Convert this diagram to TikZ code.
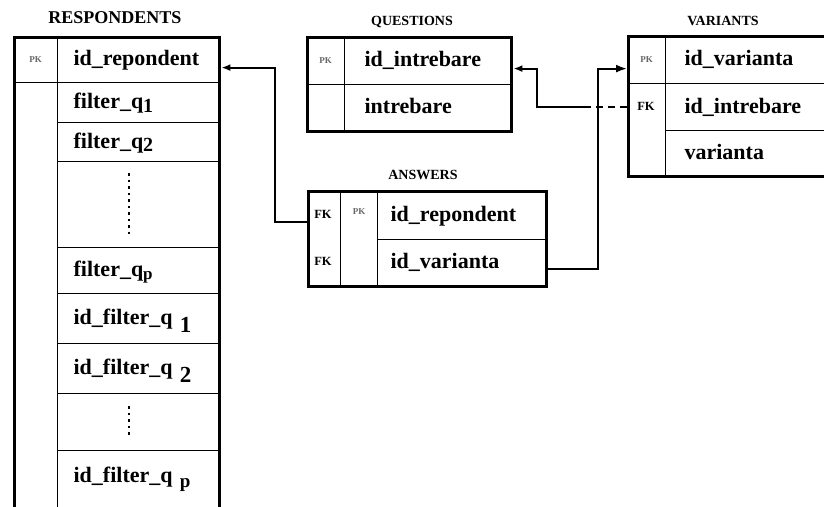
\documentclass[tikz,border=0pt]{standalone}
\usepackage{fontspec}
\setmainfont{Liberation Serif}
\usetikzlibrary{arrows.meta}
\newcommand\fieldfont{\fontsize{22}{24}\selectfont\bfseries}
\newcommand\lowsub[3]{\raisebox{-#1}{\fontsize{#2}{#2}\selectfont #3}}
\begin{document}
\begin{tikzpicture}[x=1pt,y=-1pt,
  outer/.style={draw,line width=3.4pt,anchor=north west,inner sep=0pt},
  cell/.style={draw,line width=1.2pt,anchor=north west,align=left,inner ysep=0pt,
    font=\fieldfont,text height=17pt,text depth=5pt},
  keycell/.style={draw,line width=1.2pt,anchor=north west,inner sep=0pt},
  pk/.style={font=\fontsize{9}{9}\selectfont\bfseries,text=black!60,inner sep=0pt},
  fk/.style={font=\fontsize{12.5}{12.5}\selectfont\bfseries,inner sep=0pt},
  title/.style={font=\fontsize{14}{14}\selectfont\bfseries,inner sep=0pt},
  conn/.style={line width=1.9pt},
  tip/.style={-{Latex[length=9pt,width=7pt]}},
  vdots/.style={line width=1.8pt,dash pattern=on 2.5pt off 4pt}]
\useasboundingbox (0,0) rectangle (824,506);
\clip (0,0) rectangle (824,506);

% ---------- RESPONDENTS ----------
\node[title,font=\fontsize{18}{18}\selectfont\bfseries] (trsp) at (115,18) {RESPONDENTS};
\node[keycell,pk,minimum width=44pt,minimum height=46pt] (rk0) at (13,36) {PK};
\node[keycell,minimum width=44pt,minimum height=480pt] (rk1) at (13,82) {};
\node[cell,text width=129pt,inner xsep=16pt,minimum height=46pt] (r0) at (57,36) {id\_repondent};
\node[cell,text width=129pt,inner xsep=16pt,minimum height=40pt] (r1) at (57,82) {filter\_q\lowsub{4pt}{20}{1}};
\node[cell,text width=129pt,inner xsep=16pt,minimum height=39pt] (r2) at (57,122) {filter\_q\lowsub{3pt}{20}{2}};
\node[cell,text width=129pt,inner xsep=16pt,minimum height=86pt] (r3) at (57,161) {};
\node[cell,text width=129pt,inner xsep=16pt,minimum height=46pt] (r4) at (57,247) {filter\_q\lowsub{3pt}{17}{p}};
\node[cell,text width=129pt,inner xsep=16pt,minimum height=50pt] (r5) at (57,293) {id\_filter\_q \lowsub{8pt}{23}{1}};
\node[cell,text width=129pt,inner xsep=16pt,minimum height=50pt] (r6) at (57,343) {id\_filter\_q \lowsub{8pt}{23}{2}};
\node[cell,text width=129pt,inner xsep=16pt,minimum height=57pt] (r7) at (57,393) {};
\node[cell,text width=129pt,inner xsep=16pt,minimum height=66pt,text depth=20pt] (r8) at (57,450) {id\_filter\_q \lowsub{5pt}{19}{p}};
\node[outer,minimum width=205pt,minimum height=490pt] (rbox) at (13,36) {};
\draw[vdots] (129,173) -- (129,237);
\draw[vdots] (129,406) -- (129,436);

% ---------- QUESTIONS ----------
\node[title] (tq) at (412,22) {QUESTIONS};
\node[keycell,pk,minimum width=38pt,minimum height=48pt] (qk0) at (306,36) {PK};
\node[keycell,minimum width=38pt,minimum height=46pt] (qk1) at (306,84) {};
\node[cell,text width=126pt,inner xsep=20pt,minimum height=48pt] (q0) at (344,36) {id\_intrebare};
\node[cell,text width=126pt,inner xsep=20pt,minimum height=46pt] (q1) at (344,84) {intrebare};
\node[outer,minimum width=204pt,minimum height=94pt] (qbox) at (306,36) {};

% ---------- ANSWERS ----------
\node[title] (ta) at (423,175) {ANSWERS};
\node[keycell,minimum width=33pt,minimum height=95pt] (af) at (307,190) {};
\node[keycell,minimum width=37pt,minimum height=95pt] (ap) at (340,190) {};
\node[cell,text width=142pt,inner xsep=13pt,minimum height=49pt] (a1) at (377,190) {id\_repondent};
\node[cell,text width=142pt,inner xsep=13pt,minimum height=46pt] (a2) at (377,239) {id\_varianta};
\node[outer,minimum width=238pt,minimum height=95pt] (abox) at (307,190) {};
\node[fk] (afk1) at (323,214) {FK};
\node[fk] (afk2) at (323,261) {FK};
\node[pk] (apk) at (359,212) {PK};

% ---------- VARIANTS ----------
\node[title] (tv) at (723,21) {VARIANTS};
\node[keycell,pk,minimum width=38pt,minimum height=48pt] (vk0) at (627,35) {PK};
\node[keycell,minimum width=38pt,minimum height=92pt] (vk1) at (627,83) {};
\node[cell,text width=127pt,inner xsep=19pt,minimum height=48pt] (v0) at (665,35) {id\_varianta};
\node[cell,text width=127pt,inner xsep=19pt,minimum height=47pt] (v1) at (665,83) {id\_intrebare};
\node[cell,text width=127pt,inner xsep=19pt,minimum height=45pt] (v2) at (665,130) {varianta};
\node[outer,minimum width=210pt,minimum height=140pt] (vbox) at (627,35) {};
\node[fk] (vfk) at (646,106) {FK};

% ---------- connectors ----------
\draw[conn,tip] ([yshift=-7pt]abox.west |- a1) -- ++(-32,0) |- ([yshift=-8pt]rbox.east |- r0);
\draw[conn,dashed,dash pattern=on 7pt off 5pt] (vbox.west |- v1) -- ++(-42,0) coordinate (qd);
\draw[conn,tip] (qd) -- ++(-48,0) |- ([yshift=-8pt]qbox.east |- q0);
\draw[conn,-{Latex[length=11pt,width=8pt]}] ([yshift=-6pt]abox.east |- a2) -- ++(50,0) |- ([yshift=-9pt]vbox.west |- v0);
\end{tikzpicture}
\end{document}
